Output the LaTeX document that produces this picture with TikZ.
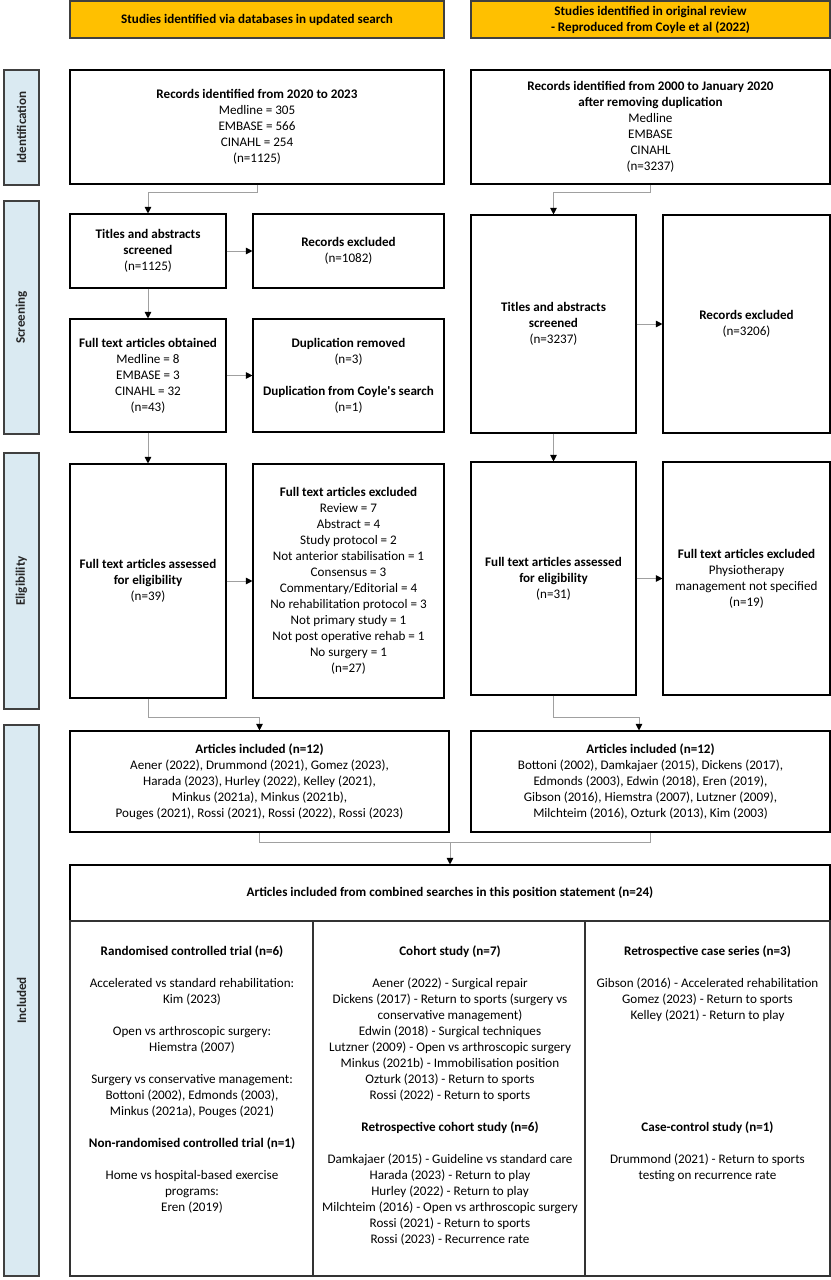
\documentclass[tikz,border=0pt]{standalone}
\usepackage{fontspec}
\setmainfont{Carlito}
\usetikzlibrary{arrows.meta}
\definecolor{hdrgold}{HTML}{FFC000}
\definecolor{sideblue}{HTML}{DAEAF2}
\definecolor{framegray}{HTML}{404040}
\definecolor{conngray}{HTML}{A0A0A0}
\newcommand{\bodyfont}{\fontsize{13.1bp}{16bp}\selectfont}
\begin{document}
\begin{tikzpicture}[x=1bp,y=-1bp,
  every node/.style={font=\bodyfont, inner sep=0pt, align=center},
  box/.style={draw=black, line width=1.1bp, fill=white},
  hdr/.style={draw=framegray, line width=1.3bp, fill=hdrgold, font=\bodyfont\bfseries},
  side/.style={draw=framegray, line width=1.5bp, fill=sideblue, rotate=90, font=\bodyfont\bfseries, text=black!85, minimum height=35bp},
  conn/.style={draw=conngray, line width=1bp},
  arr/.style={conn, -{Triangle[length=6.5bp,width=6.5bp,color=black]}},
  tline/.style={draw=black!80, line width=2bp}
]
\useasboundingbox (0,0) rectangle (831,1280);
\fill[white] (0,0) rectangle (831,1280);

% headers
\node[hdr, minimum width=374bp, minimum height=37bp] (hdrL) at (257,19.5) {Studies identified via databases in updated search};
\node[hdr, minimum width=359bp, minimum height=37bp] (hdrR) at (650.5,19.5) {Studies identified in original review\\- Reproduced from Coyle et al (2022)};

% side labels
\node[side, minimum width=115bp] (sId) at (21.5,127.5) {Identification};
\node[side, minimum width=233bp] (sScr) at (21.5,317.5) {Screening};
\node[side, minimum width=256bp] (sElig) at (21.5,581) {Eligibility};
\node[side, minimum width=551bp] (sInc) at (21.5,1000.5) {Included};

% identification
\node[box, minimum width=374bp, minimum height=114bp] (recL) at (257,127) {\textbf{Records identified from 2020 to 2023}\\Medline = 305\\EMBASE = 566\\CINAHL = 254\\(n=1125)};
\node[box, minimum width=359bp, minimum height=114bp] (recR) at (650.5,127) {\textbf{Records identified from 2000 to January 2020}\\\textbf{after removing duplication}\\Medline\\EMBASE\\CINAHL\\(n=3237)};

% screening left
\node[box, minimum width=156bp, minimum height=74bp] (tasL) at (148,251) {\textbf{Titles and abstracts}\\\textbf{screened}\\(n=1125)};
\node[box, minimum width=191bp, minimum height=74bp] (rexL) at (348.5,251) {\textbf{Records excluded}\\(n=1082)};
\node[box, minimum width=156bp, minimum height=113bp] (ftoL) at (148,375.5) {\textbf{Full text articles obtained}\\Medline = 8\\EMBASE = 3\\CINAHL = 32\\(n=43)};
\node[box, minimum width=191bp, minimum height=113bp] (dupL) at (348.5,375.5) {\textbf{Duplication removed}\\(n=3)\\[16bp]\textbf{Duplication from Coyle\textquotesingle s search}\\(n=1)};

% screening right
\node[box, minimum width=165bp, minimum height=218bp] (tasR) at (553.5,324) {\textbf{Titles and abstracts}\\\textbf{screened}\\(n=3237)};
\node[box, minimum width=167bp, minimum height=218bp] (rexR) at (746.5,324) {\textbf{Records excluded}\\(n=3206)};

% eligibility
\node[box, minimum width=156bp, minimum height=234bp] (ftaL) at (148,581) {\textbf{Full text articles assessed}\\\textbf{for eligibility}\\(n=39)};
\node[box, minimum width=191bp, minimum height=234bp] (fteL) at (348.5,581) {\textbf{Full text articles excluded}\\Review = 7\\Abstract = 4\\Study protocol = 2\\Not anterior stabilisation = 1\\Consensus = 3\\Commentary/Editorial = 4\\No rehabilitation protocol = 3\\Not primary study = 1\\Not post operative rehab = 1\\No surgery = 1\\(n=27)};
\node[box, minimum width=165bp, minimum height=233bp] (ftaR) at (553.5,578.5) {\textbf{Full text articles assessed}\\\textbf{for eligibility}\\(n=31)};
\node[box, minimum width=167bp, minimum height=233bp] (fteR) at (746.5,578.5) {\textbf{Full text articles excluded}\\Physiotherapy\\management not specified\\(n=19)};

% included
\node[box, minimum width=379bp, minimum height=101bp] (aiL) at (259.5,781.5) {\textbf{Articles included (n=12)}\\Aener (2022), Drummond (2021), Gomez (2023),\\Harada (2023), Hurley (2022), Kelley (2021),\\Minkus (2021a), Minkus (2021b),\\Pouges (2021), Rossi (2021), Rossi (2022), Rossi (2023)};
\node[box, minimum width=359bp, minimum height=101bp] (aiR) at (650.5,781.5) {\textbf{Articles included (n=12)}\\Bottoni (2002), Damkajaer (2015), Dickens (2017),\\Edmonds (2003), Edwin (2018), Eren (2019),\\Gibson (2016), Hiemstra (2007), Lutzner (2009),\\Milchteim (2016), Ozturk (2013), Kim (2003)};
\node[box, minimum width=760bp, minimum height=56bp] (comb) at (450,893) {\textbf{Articles included from combined searches in this position statement (n=24)}};

% table
\node[tline, minimum width=760bp, minimum height=355bp] (tbl) at (450,1098.5) {};
\draw[tline] (tbl.north west) ++(244,0) coordinate (colA) -- ++(0,355);
\draw[tline] (tbl.north west) ++(516,0) coordinate (colB) -- ++(0,355);

\node (c1) at (192,1080) {\textbf{Randomised controlled trial (n=6)}\\[16bp]Accelerated vs standard rehabilitation:\\Kim (2023)\\[16bp]Open vs arthroscopic surgery:\\Hiemstra (2007)\\[16bp]Surgery vs conservative management:\\Bottoni (2002), Edmonds (2003),\\Minkus (2021a), Pouges (2021)\\[16bp]\textbf{Non-randomised controlled trial (n=1)}\\[16bp]Home vs hospital-based exercise\\programs:\\Eren (2019)};
\node (c2) at (450,1096) {\textbf{Cohort study (n=7)}\\[16bp]Aener (2022) - Surgical repair\\Dickens (2017) - Return to sports (surgery vs\\conservative management)\\Edwin (2018) - Surgical techniques\\Lutzner (2009) - Open vs arthroscopic surgery\\Minkus (2021b) - Immobilisation position\\Ozturk (2013) - Return to sports\\Rossi (2022) - Return to sports\\[16bp]\textbf{Retrospective cohort study (n=6)}\\[16bp]Damkajaer (2015) - Guideline vs standard care\\Harada (2023) - Return to play\\Hurley (2022) - Return to play\\Milchteim (2016) - Open vs arthroscopic surgery\\Rossi (2021) - Return to sports\\Rossi (2023) - Recurrence rate};
\node (c3) at (707.5,1064) {\textbf{Retrospective case series (n=3)}\\[16bp]Gibson (2016) - Accelerated rehabilitation\\Gomez (2023) - Return to sports\\Kelley (2021) - Return to play\\[96bp]\textbf{Case-control study (n=1)}\\[16bp]Drummond (2021) - Return to sports\\testing on recurrence rate};

% connectors
\draw[arr] (recL.south) -- ++(0,8) -| (tasL.north);
\draw[arr] (recR.south) -- ++(0,8) -| (tasR.north);
\draw[arr] (tasL.east) -- (rexL.west);
\draw[arr] (tasL.south) -- (ftoL.north);
\draw[arr] (ftoL.east) -- (dupL.west);
\draw[arr] (ftoL.south) -- (ftaL.north);
\draw[arr] (ftaL.east) -- (fteL.west);
\draw[arr] (tasR.east) -- (rexR.west);
\draw[arr] (tasR.south) -- (ftaR.north);
\draw[arr] (ftaR.east) -- (fteR.west);
\draw[arr] (ftaL.south) -- ++(0,19) -| (aiL.north);
\draw[arr] (ftaR.south) -- ++(0,22) -| ([xshift=-11.5bp]aiR.north);
\coordinate (mrg) at (450,842);
\draw[conn] (aiL.south) |- (mrg) -| (aiR.south);
\draw[arr] (mrg) -- (comb.north);
\end{tikzpicture}
\end{document}
